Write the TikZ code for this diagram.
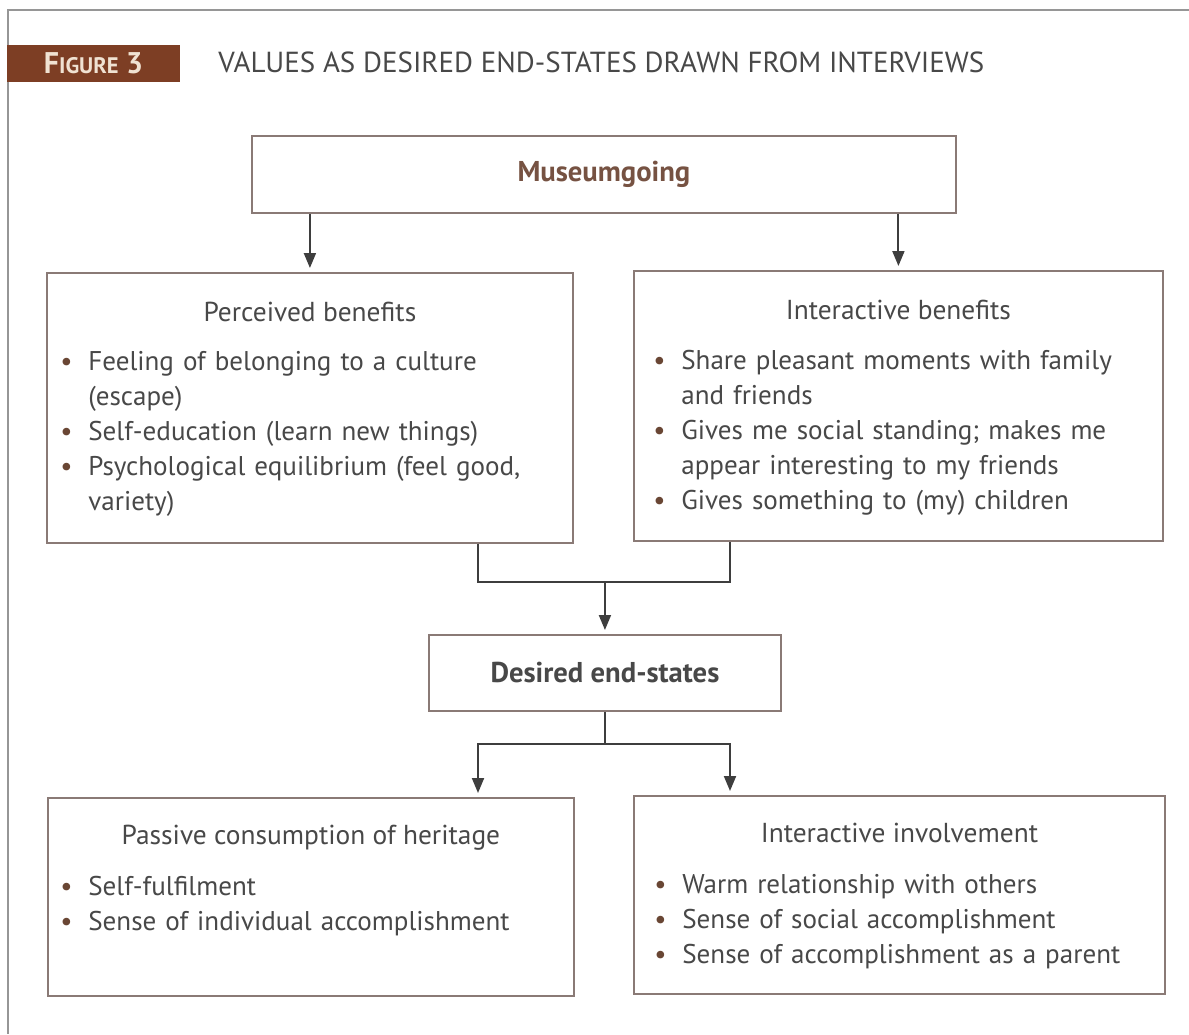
\documentclass[tikz,border=0pt]{standalone}
\usepackage{fontspec}
\setmainfont{PT Sans}
\usetikzlibrary{arrows.meta, positioning, calc}
\definecolor{tabbrown}{RGB}{125,62,36}
\definecolor{tabtext}{RGB}{240,226,210}
\definecolor{headbrown}{RGB}{118,82,66}
\definecolor{bulletbrown}{RGB}{105,70,52}
\definecolor{boxline}{RGB}{138,122,118}
\definecolor{textgray}{RGB}{72,72,72}
\definecolor{linegray}{RGB}{62,62,62}
\definecolor{framegray}{RGB}{150,150,150}
\newcommand{\bodyfont}{\fontsize{15.4}{19.92}\selectfont}
\newcommand{\bitem}[1]{\hangindent=0.56cm\hangafter=1\noindent\makebox[0.56cm][l]{\textcolor{bulletbrown}{\textbullet}}#1\par}
\tikzset{
    valbox/.style={draw=boxline, line width=1.1pt, fill=white, inner sep=0pt, anchor=north west},
    boxhead/.style={font=\fontsize{15.6}{19.92}\selectfont, text=textgray, anchor=base},
    keyhead/.style={font=\fontsize{16.3}{19}\selectfont\bfseries, text=#1},
    itemlist/.style={font=\bodyfont, text=textgray, text width=10cm, align=left, inner sep=0pt, anchor=north west},
    flow/.style={draw=linegray, line width=1.1pt, shorten >=0.08cm, -{Triangle[length=0.3cm, width=0.24cm]}},
    link/.style={draw=linegray, line width=1.1pt}
}

\begin{document}
\begin{tikzpicture}[x=0.02cm, y=-0.02cm]
\useasboundingbox (0,0) rectangle (1189,1034);

% frame and heading
\draw[framegray, line width=1.6pt] (1189,10) -| (8,1034);
\node[fill=tabbrown, minimum width=3.46cm, minimum height=0.74cm, inner sep=0pt, text=tabtext, font=\fontsize{17}{19}\selectfont\bfseries] (figtab) at (93.5,63.5) {F{\fontsize{12.8}{14}\selectfont IGURE} 3};
\node[anchor=west, inner sep=0pt, text=textgray, font=\fontsize{16.5}{18}\selectfont] (figtitle) at (218,62) {VALUES AS DESIRED END-STATES DRAWN FROM INTERVIEWS};

% boxes
\node[valbox, minimum width=14.08cm, minimum height=1.54cm] (museum) at (251,135) {};
\node[keyhead=headbrown] (museumtext) at (museum.center) {Museumgoing};

\node[valbox, minimum width=10.52cm, minimum height=5.4cm] (pbox) at (46,272) {};
\node[valbox, minimum width=10.58cm, minimum height=5.4cm] (ibox) at (633,270) {};

\node[valbox, minimum width=7.04cm, minimum height=1.52cm] (desired) at (428,634) {};
\node[keyhead=textgray] (desiredtext) at (desired.center) {Desired end-states};

\node[valbox, minimum width=10.52cm, minimum height=3.96cm] (cbox) at (47,797) {};
\node[valbox, minimum width=10.62cm, minimum height=3.96cm] (vbox) at (633,795) {};

% box texts
\node[boxhead] (phead) at (pbox.north |- 0,321) {Perceived benefits};
\node[itemlist] (plist) at (60,351) {%
\bitem{Feeling of belonging to a culture\newline (escape)}
\bitem{Self-education (learn new things)}
\bitem{Psychological equilibrium (feel good,\newline variety)}};

\node[boxhead] (ihead) at (ibox.north |- 0,319) {Interactive benefits};
\node[itemlist] (ilist) at (653,350) {%
\bitem{Share pleasant moments with family\newline and friends}
\bitem{Gives me social standing; makes me\newline appear interesting to my friends}
\bitem{Gives something to (my) children}};

\node[boxhead] (chead) at (cbox.north |- 0,844) {Passive consumption of heritage};
\node[itemlist] (clist) at (60,876) {%
\bitem{Self-fulfilment}
\bitem{Sense of individual accomplishment}};

\node[boxhead] (vhead) at (vbox.north |- 0,842) {Interactive involvement};
\node[itemlist] (vlist) at (654,874) {%
\bitem{Warm relationship with others}
\bitem{Sense of social accomplishment}
\bitem{Sense of accomplishment as a parent}};

% connectors
\coordinate (jl) at (478,0);
\coordinate (jr) at (730,0);
\coordinate (upjoin) at ($(desired.north)+(0,-52)$);
\coordinate (downjoin) at ($(desired.south)+(0,32)$);

\draw[flow] (museum.south -| pbox.north) -- (pbox.north);
\draw[flow] (museum.south -| ibox.north) -- (ibox.north);
\draw[link] (pbox.south -| jl) |- (upjoin) -| (ibox.south -| jr);
\draw[flow] (upjoin) -- (desired.north);
\draw[link] (desired.south) -- (downjoin);
\draw[flow] (downjoin) -| (cbox.north -| jl);
\draw[flow] (downjoin) -| (vbox.north -| jr);

\end{tikzpicture}
\end{document}
